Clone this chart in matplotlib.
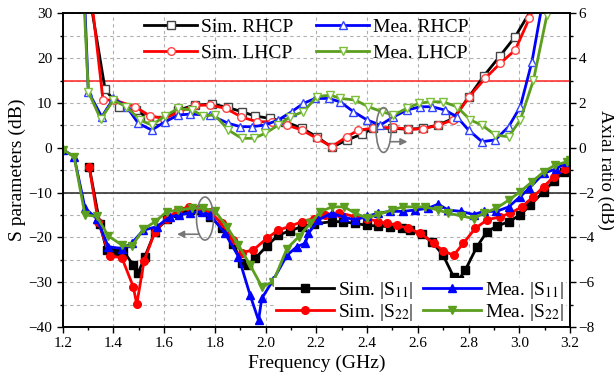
import matplotlib
matplotlib.use('Agg')
import matplotlib.pyplot as plt
from matplotlib.patches import Ellipse
from matplotlib.ticker import MultipleLocator

plt.rcParams['font.family'] = ['Liberation Serif', 'DejaVu Serif']
plt.rcParams['mathtext.fontset'] = 'stix'

# axial ratio curves (right axis)
f_sim_r = [1.31, 1.367, 1.42, 1.49, 1.536, 1.57, 1.655, 1.72, 1.79, 1.85, 1.906,
           1.96, 2.018, 2.077, 2.143, 2.202, 2.261, 2.32, 2.38, 2.424, 2.50, 2.562,
           2.621, 2.68, 2.74, 2.80, 2.86, 2.925, 2.984, 3.06]
ar_sim_r = [6.5, 2.62, 1.83, 1.68, 1.32, 1.24, 1.68, 1.9, 1.95, 1.8, 1.61,
            1.41, 1.31, 1.16, 0.87, 0.49, 0.02, 0.34, 0.61, 0.87, 0.87, 0.82,
            0.87, 1.01, 1.31, 2.25, 3.2, 4.11, 4.96, 6.4]

f_sim_l = [1.31, 1.359, 1.402, 1.485, 1.544, 1.60, 1.66, 1.722, 1.781, 1.843,
           1.903, 1.965, 2.024, 2.084, 2.143, 2.202, 2.261, 2.32, 2.366, 2.425,
           2.504, 2.563, 2.62, 2.68, 2.74, 2.80, 2.866, 2.925, 2.984, 3.04, 3.07]
ar_sim_l = [7.0, 2.13, 2.13, 1.83, 1.42, 1.3, 1.6, 1.9, 1.9, 1.76,
            1.38, 1.16, 1.16, 1.01, 0.79, 0.42, 0.05, 0.49, 0.79, 0.87,
            0.91, 0.82, 0.85, 1.0, 1.25, 2.25, 3.1, 3.77, 4.36, 5.78, 6.6]

f_mea_r = [1.285, 1.301, 1.354, 1.40, 1.452, 1.498, 1.551, 1.604, 1.656, 1.70,
           1.78, 1.853, 1.90, 1.945, 1.998, 2.05, 2.103, 2.149, 2.195, 2.248,
           2.294, 2.346, 2.40, 2.452, 2.504, 2.557, 2.61, 2.656, 2.708, 2.754,
           2.80, 2.853, 2.905, 2.958, 3.004, 3.05, 3.10]
ar_mea_r = [7.0, 2.5, 1.38, 2.2, 1.83, 1.09, 0.79, 1.16, 1.46, 1.5,
            1.46, 1.09, 0.94, 0.94, 1.01, 1.24, 1.61, 1.98, 2.2, 2.2,
            2.05, 1.61, 1.24, 1.01, 1.38, 1.68, 1.83, 1.83, 1.68, 1.38,
            0.79, 0.27, 0.35, 0.94, 1.83, 3.84, 7.0]

f_mea_l = [1.282, 1.301, 1.35, 1.40, 1.45, 1.505, 1.551, 1.604, 1.656, 1.709,
           1.755, 1.80, 1.853, 1.906, 1.953, 1.998, 2.05, 2.097, 2.149, 2.202,
           2.255, 2.294, 2.353, 2.405, 2.458, 2.504, 2.557, 2.603, 2.649, 2.70,
           2.754, 2.807, 2.853, 2.905, 2.958, 3.004, 3.056, 3.109, 3.13]
ar_mea_l = [7.0, 2.5, 1.27, 2.13, 1.83, 1.24, 1.01, 1.42, 1.76, 1.68,
            1.42, 1.46, 0.79, 0.42, 0.42, 0.64, 1.01, 1.38, 1.61, 2.28,
            2.35, 2.2, 2.13, 1.83, 1.61, 1.46, 1.76, 1.98, 2.05, 2.05,
            1.83, 1.24, 1.01, 0.57, 0.49, 1.24, 3.02, 5.92, 7.0]

# S parameter curves (left axis)
f_s11 = [1.305, 1.347, 1.373, 1.405, 1.439, 1.478, 1.498, 1.524, 1.564, 1.61,
         1.656, 1.70, 1.74, 1.781, 1.827, 1.873, 1.906, 1.932, 1.959, 2.005,
         2.05, 2.097, 2.143, 2.189, 2.261, 2.307, 2.353, 2.40, 2.445,
         2.491, 2.537, 2.57, 2.616, 2.656, 2.70, 2.741, 2.761, 2.787, 2.833,
         2.873, 2.912, 2.958, 3.004, 3.043, 3.096, 3.136, 3.175, 3.20]
s11_sim = [-4.4, -17.1, -22.8, -23.0, -23.0, -26.2, -27.9, -24.3, -18.7, -16.0,
           -14.6, -14.0, -14.0, -15.4, -17.8, -21.5, -25.8, -26.2, -24.7, -21.9,
           -19.5, -18.5, -17.6, -17.0, -16.5, -16.5, -16.9, -17.3, -17.5,
           -17.6, -18.0, -18.4, -19.3, -21.0, -24.0, -28.8, -29.5, -27.3, -22.1,
           -18.7, -17.5, -16.5, -15.0, -12.8, -9.8, -7.4, -5.4, -4.0]

f_s22 = [1.305, 1.34, 1.386, 1.433, 1.478, 1.492, 1.521, 1.564, 1.61, 1.656,
         1.696, 1.74, 1.781, 1.827, 1.873, 1.906, 1.952, 2.005, 2.05, 2.097,
         2.143, 2.189, 2.235, 2.29, 2.353, 2.40, 2.445, 2.48, 2.518, 2.563,
         2.61, 2.662, 2.70, 2.741, 2.78, 2.826, 2.873, 2.925, 2.965, 3.01,
         3.056, 3.096, 3.136, 3.18, 3.20]
s22_sim = [-4.4, -16.5, -24.2, -24.5, -31.0, -34.9, -25.2, -18.7, -15.8, -13.9,
           -13.2, -13.4, -14.3, -16.9, -20.6, -23.4, -22.8, -20.2, -18.4, -17.5,
           -16.5, -15.8, -15.0, -14.5, -15.4, -15.8, -16.5, -16.9, -17.3, -18.0,
           -19.1, -21.3, -23.0, -24.0, -21.3, -18.0, -16.1, -15.4, -14.6, -13.2,
           -10.9, -8.7, -6.5, -4.8, -4.2]

f_m11 = [1.20, 1.245, 1.288, 1.334, 1.38, 1.433, 1.472, 1.518, 1.571, 1.623,
         1.66, 1.70, 1.75, 1.781, 1.84, 1.893, 1.939, 1.972, 1.985, 2.03,
         2.084, 2.123, 2.156, 2.169, 2.208, 2.26, 2.31, 2.353, 2.40, 2.445,
         2.49, 2.54, 2.59, 2.64, 2.68, 2.72, 2.77, 2.82, 2.86, 2.91,
         2.958, 3.004, 3.04, 3.096, 3.146, 3.19, 3.20]
s11_mea = [-0.4, -2.0, -13.5, -15.8, -22.1, -22.5, -21.3, -18.4, -17.6, -15.4,
           -15.0, -14.5, -14.3, -15.0, -19.1, -24.3, -32.9, -38.5, -33.6, -29.5,
           -24.0, -22.1, -21.3, -19.1, -16.1, -14.6, -15.5, -16.1, -15.3, -14.6,
           -14.2, -14.2, -13.9, -13.5, -12.6, -13.9, -14.2, -14.9, -14.2, -14.2,
           -13.2, -10.9, -9.0, -5.7, -4.7, -3.1, -2.9]

f_m22 = [1.20, 1.245, 1.288, 1.334, 1.38, 1.433, 1.472, 1.518, 1.564, 1.61,
         1.656, 1.709, 1.755, 1.80, 1.847, 1.893, 1.939, 1.985, 2.03, 2.084,
         2.13, 2.176, 2.215, 2.261, 2.31, 2.353, 2.40, 2.445, 2.498, 2.54,
         2.59, 2.63, 2.68, 2.72, 2.77, 2.82, 2.86, 2.91, 2.958, 3.004,
         3.05, 3.096, 3.14, 3.19, 3.20]
s22_mea = [-0.4, -2.0, -15.0, -15.3, -19.7, -21.7, -22.0, -18.2, -16.5, -14.3,
           -13.9, -13.5, -13.5, -14.1, -17.6, -21.7, -26.2, -31.0, -29.9, -22.5,
           -19.9, -16.9, -14.3, -13.2, -13.2, -14.6, -15.7, -14.9, -13.9, -13.2,
           -13.2, -13.2, -13.9, -14.6, -15.2, -15.8, -14.6, -13.5, -11.7, -9.8,
           -7.6, -5.4, -3.9, -3.1, -2.7]

GREEN = '#5c9e1e'

fig = plt.figure(figsize=(6.14, 3.79), dpi=100)
ax1 = fig.add_axes([62.7 / 614, 1 - 327 / 379, 507.3 / 614, 313.7 / 379])
ax2 = ax1.twinx()

ax1.set_xlim(1.2, 3.2)
ax1.set_ylim(-40, 30)
ax2.set_ylim(-8, 6)

ax1.xaxis.set_minor_locator(MultipleLocator(0.1))
ax1.yaxis.set_major_locator(MultipleLocator(10))
ax1.yaxis.set_minor_locator(MultipleLocator(5))
ax2.yaxis.set_major_locator(MultipleLocator(2))
ax2.yaxis.set_minor_locator(MultipleLocator(1))
ax1.set_xticks([1.2, 1.4, 1.6, 1.8, 2.0, 2.2, 2.4, 2.6, 2.8, 3.0, 3.2])
ax1.set_xticklabels(['1.2', '1.4', '1.6', '1.8', '2.0', '2.2', '2.4', '2.6', '2.8', '3.0', '3.2'])

ax1.grid(True, which='major', axis='x', color='#b0b0b0', ls=(0, (3, 3)), lw=0.8)
ax1.grid(True, which='both', axis='y', color='#b0b0b0', ls=(0, (3, 3)), lw=0.8)
ax1.set_axisbelow(True)

for ax in (ax1, ax2):
    ax.tick_params(labelsize=11, length=4, width=1)
    ax.tick_params(which='minor', length=2.5, width=1)
    for sp in ax.spines.values():
        sp.set_linewidth(1.2)
ax2.tick_params(pad=2)

ax1.axhline(-10, color='#333333', lw=1.2, zorder=1)
ax2.axhline(3, color='#ff3333', lw=1.2, zorder=1)

# S parameters
kw = dict(lw=2, ms=5.5)
h1, = ax1.plot(f_s11, s11_sim, '-s', color='black', label='Sim. |S$_{11}$|', **kw)
h3, = ax1.plot(f_s22, s22_sim, '-o', color='red', label='Sim. |S$_{22}$|', **kw)
h2, = ax1.plot(f_m11, s11_mea, '-^', color='blue', label='Mea. |S$_{11}$|', **kw)
h4, = ax1.plot(f_m22, s22_mea, '-v', color=GREEN, label='Mea. |S$_{22}$|', **kw)

# axial ratio
kw2 = dict(lw=2, ms=5.5, mfc='white', mew=1)
g1, = ax2.plot(f_sim_r, ar_sim_r, '-s', color='black', mec='#444444', label='Sim. RHCP', **kw2)
g3, = ax2.plot(f_sim_l, ar_sim_l, '-o', color='red', mec='#ff4444', label='Sim. LHCP', **kw2)
g2, = ax2.plot(f_mea_r, ar_mea_r, '-^', color='blue', mec='#3344ff', label='Mea. RHCP', **kw2)
g4, = ax2.plot(f_mea_l, ar_mea_l, '-v', color=GREEN, mec='#7cbf3c', label='Mea. LHCP', **kw2)

# ellipse markers with arrows
ax1.add_patch(Ellipse((1.761, -15.8), 0.067, 9.6, fill=False, ec='#777777', lw=1.2, zorder=6))
ax1.annotate('', xy=(1.64, -19.3), xytext=(1.75, -19.3),
             arrowprops=dict(arrowstyle='-|>', color='#777777', lw=1.2), zorder=6)
ax2.add_patch(Ellipse((2.465, 0.79), 0.059, 2.0, fill=False, ec='#777777', lw=1.2, zorder=6))
ax2.annotate('', xy=(2.57, 0.27), xytext=(2.48, 0.27),
             arrowprops=dict(arrowstyle='-|>', color='#777777', lw=1.2), zorder=6)

leg1 = ax2.legend(handles=[g1, g3, g2, g4], ncol=2, loc='upper left',
                  bbox_to_anchor=(0.138, 1.02), frameon=False, fontsize=14,
                  handlelength=2.7, columnspacing=1.2, labelspacing=0.4,
                  handletextpad=0.2, borderaxespad=0.2)
ax2.add_artist(leg1)
leg2 = ax2.legend(handles=[h1, h3, h2, h4], ncol=2, loc='lower right',
                  bbox_to_anchor=(0.995, 0.0), frameon=True, fontsize=14,
                  handlelength=3.0, columnspacing=0.5, labelspacing=0.05,
                  handletextpad=0.2, borderaxespad=0.1, borderpad=0.1,
                  fancybox=False, edgecolor='none', facecolor='white', framealpha=1)

ax1.set_xlabel('Frequency (GHz)', fontsize=14, labelpad=3)
ax1.set_ylabel('S parameters (dB)', fontsize=14, labelpad=2)
ax2.set_ylabel('Axial ratio (dB)', fontsize=13.5, rotation=270, labelpad=14)

fig.savefig('out.png', dpi=100)
